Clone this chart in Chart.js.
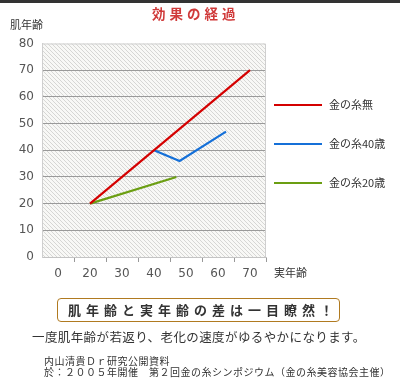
<!DOCTYPE html>
<html><head><meta charset="utf-8">
<script src="https://cdn.jsdelivr.net/npm/chart.js@4"></script>
<style>
html,body{margin:0;padding:0;background:#fff;}
#wrap{position:relative;width:400px;height:380px;overflow:hidden;font-family:"Noto Sans CJK JP","Noto Sans",sans-serif;color:#333;}
#bar{position:absolute;left:0;top:0;width:400px;height:3px;background:#333;}
canvas{position:absolute;left:0;top:0;}
.t{position:absolute;white-space:nowrap;line-height:1;}
#title{left:152px;top:7px;font-size:13.5px;font-weight:bold;color:#d03a3a;letter-spacing:4px;}
#ytitle{left:10px;top:19px;font-size:11px;color:#333;}
#xtitle{left:274px;top:267px;font-size:11px;color:#333;}
#box{position:absolute;left:57px;top:298px;width:281px;height:22px;border:1.5px solid #b07a20;border-radius:4px;}
#boxtext{left:68px;top:303px;font-size:13px;font-weight:bold;color:#333;letter-spacing:5px;}
#line1{left:32px;top:331px;font-size:12.5px;color:#333;letter-spacing:0.4px;}
#src1{left:44px;top:356px;font-size:10px;color:#333;letter-spacing:0.5px;}
#src2{left:44px;top:367px;font-size:10px;color:#333;letter-spacing:0.5px;}
.lg{position:absolute;left:274px;height:12px;}
.lg span.l{position:absolute;left:0;top:5px;width:48px;height:2px;}
.lg span.s{position:absolute;left:55px;top:0;font-size:11px;white-space:nowrap;line-height:1;color:#333;}
</style></head>
<body>
<div id="wrap">
<canvas id="c" width="400" height="380"></canvas>
<div id="bar"></div>
<div class="t" id="title">効果の経過</div>
<div class="t" id="ytitle">肌年齢</div>
<div class="t" id="xtitle">実年齢</div>
<div id="box"></div>
<div class="t" id="boxtext">肌年齢と実年齢の差は一目瞭然！</div>
<div class="t" id="line1">一度肌年齢が若返り、老化の速度がゆるやかになります。</div>
<div class="t" id="src1">内山清貴Ｄｒ研究公開資料</div>
<div class="t" id="src2">於：２００５年開催　第２回金の糸シンポジウム（金の糸美容協会主催）</div>
<div id="legend"></div>
</div>
<script>
// ---- data ----
const categories = ['0','20','30','40','50','60','70'];
const seriesNames = ['金の糸無','金の糸40歳','金の糸20歳'];
const seriesColors = ['#d40000','#1570d8','#6b9e12'];
const noneX = [20, 70];
const noneY = [20, 70];
const age40X = [40, 48, 62.5];
const age40Y = [40, 36, 47];
const age20X = [20, 47];
const age20Y = [20, 30];
const yTicks = [0,10,20,30,40,50,60,70,80];

function pts(xs, ys){ return xs.map((x,i)=>({x:x,y:ys[i]})); }

const datasets = [
  {label:seriesNames[0], data:pts(noneX,noneY)},
  {label:seriesNames[1], data:pts(age40X,age40Y)},
  {label:seriesNames[2], data:pts(age20X,age20Y)}
].map((d,i)=>Object.assign(d,{borderColor:seriesColors[i],backgroundColor:seriesColors[i],borderWidth:2.2,pointRadius:0,tension:0,xAxisID:'xv',yAxisID:'y'}));

// hatch pattern
const pc = document.createElement('canvas'); pc.width=4; pc.height=4;
const px = pc.getContext('2d');
px.fillStyle='#f8f8f6'; px.fillRect(0,0,4,4);
px.strokeStyle='#d6d6d4'; px.lineWidth=1;
px.beginPath(); px.moveTo(-1,-1); px.lineTo(5,5); px.stroke();
px.beginPath(); px.moveTo(3,-1); px.lineTo(5,1); px.stroke();
px.beginPath(); px.moveTo(-1,3); px.lineTo(1,5); px.stroke();

const bgPlugin = {
  id:'bg',
  beforeDraw(chart){
    const a=chart.chartArea, ctx=chart.ctx;
    ctx.save();
    ctx.fillStyle=ctx.createPattern(pc,'repeat');
    ctx.fillRect(a.left,a.top,a.right-a.left,a.bottom-a.top);
    ctx.restore();
  },
  afterDraw(chart){
    const a=chart.chartArea, ctx=chart.ctx;
    ctx.save();
    ctx.strokeStyle='#cfcfcf'; ctx.lineWidth=1;
    ctx.beginPath();
    ctx.moveTo(a.left, a.top+0.5); ctx.lineTo(a.right-0.5, a.top+0.5); ctx.lineTo(a.right-0.5, a.bottom);
    ctx.stroke();
    ctx.restore();
  }
};

const T='rgba(0,0,0,0)';
new Chart(document.getElementById('c'), {
  type:'line',
  data:{datasets:datasets},
  options:{
    responsive:false, animation:false,
    layout:{padding:{top:43.5,left:0,right:134,bottom:93}},
    plugins:{legend:{display:false},tooltip:{enabled:false}},
    scales:{
      x:{type:'category', labels:categories, position:'bottom', offset:true,
         afterFit(s){s.height=30;},
         grid:{offset:true, drawOnChartArea:false, drawTicks:true, tickLength:5,
               color:(c)=> (c.index===0||c.index>=categories.length)?T:'#999'},
         border:{color:'#c4c4c4'},
         ticks:{font:{family:'DejaVu Sans',size:12}, color:'#555', padding:5, maxRotation:0}},
      xv:{type:'linear', min:5, max:75, display:false},
      y:{type:'linear', min:0, max:80,
         afterFit(s){s.width=42;},
         afterBuildTicks(s){s.ticks=yTicks.map(v=>({value:v}));},
         grid:{drawTicks:false, color:(c)=> (c.tick && (c.tick.value===0||c.tick.value===80))?T:'#9a9a9a', lineWidth:1},
         border:{color:'#cfcfcf'},
         ticks:{font:{family:'DejaVu Sans',size:12}, color:'#555', padding:8}}
    }
  },
  plugins:[bgPlugin]
});

// legend from datasets
const legendY=[99,138,177];
const lg=document.getElementById('legend');
datasets.forEach((d,i)=>{
  const e=document.createElement('div'); e.className='lg'; e.style.top=legendY[i]+'px';
  const l=document.createElement('span'); l.className='l'; l.style.background=d.borderColor;
  const s=document.createElement('span'); s.className='s'; s.textContent=d.label;
  e.appendChild(l); e.appendChild(s); lg.appendChild(e);
});
</script>
</body></html>
